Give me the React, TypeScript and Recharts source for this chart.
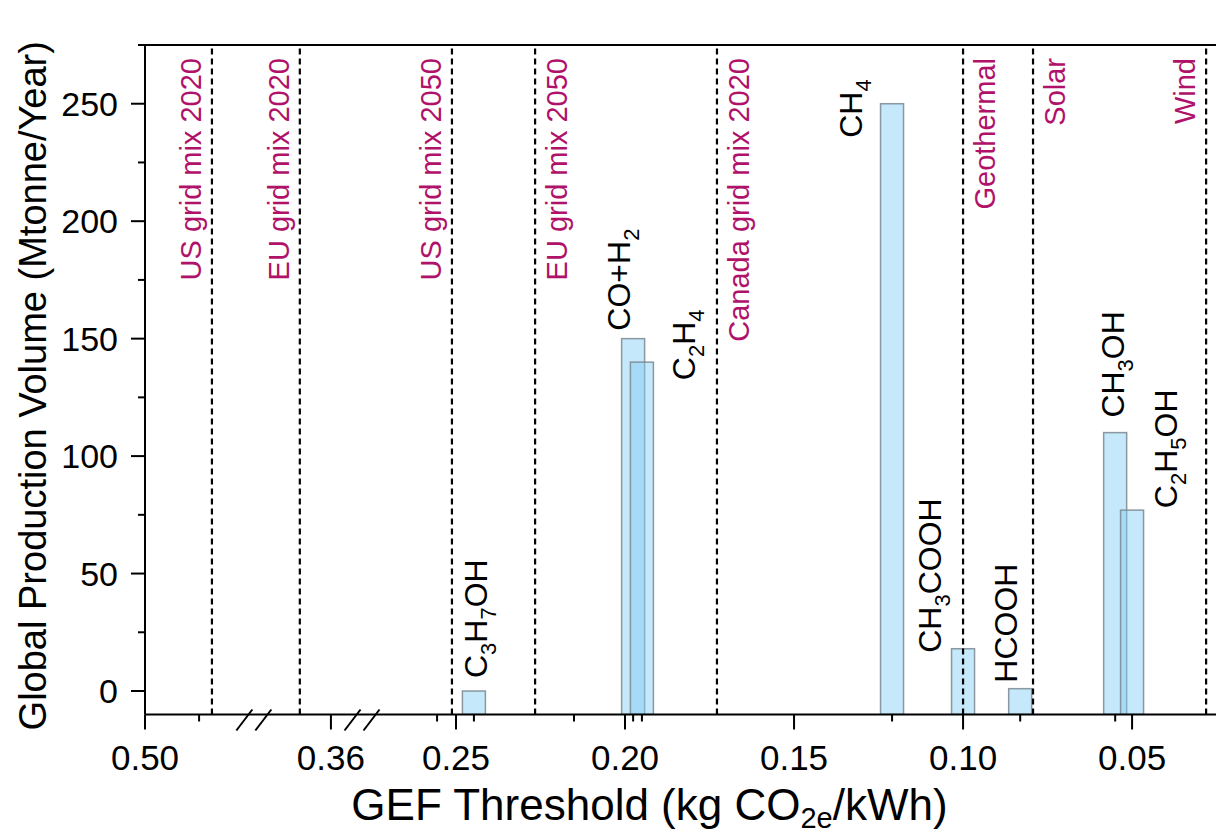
import React from 'react';
import { BarChart, Bar, XAxis, YAxis, ReferenceLine, ReferenceDot, Label } from 'recharts';

// ---------- data ----------
const products = ['C3H7OH', 'CO+H2', 'C2H4', 'CH4', 'CH3COOH', 'HCOOH', 'CH3OH', 'C2H5OH'];
const productGef = [0.2447, 0.1976, 0.195, 0.121, 0.1, 0.0831, 0.055, 0.05];
const productVolume = [0, 150, 140, 250, 18, 1, 110, 77];
// label placement relative to the bar's top centre (px): [dx, dy]
const labelOffsets = [[13, -13], [-3, -8], [53, 18], [-30, 34], [-22, 4], [-3, -6], [9, -15], [45, -2]];

const gridNames = ['US grid mix 2020', 'EU grid mix 2020', 'US grid mix 2050', 'EU grid mix 2050', 'Canada grid mix 2020', 'Geothermal', 'Solar', 'Wind'];
const gridGef = [0.4802, 0.3692, 0.2512, 0.2266, 0.1728, 0.1, 0.0793, 0.0281];
const gridLabelSide = ['left', 'left', 'left', 'right', 'right', 'right', 'right', 'left'];

const majorTicks = [0.5, 0.36, 0.25, 0.2, 0.15, 0.1, 0.05];
const majorTickLabels = ['0.50', '0.36', '0.25', '0.20', '0.15', '0.10', '0.05'];
const extraMinorTicks = [0.484, 0.2556, 0.2151];

const yTicks = [0, 25, 50, 75, 100, 125, 150, 175, 200, 225, 250, 275];
const yMajorLabels = ['0', '50', '100', '150', '200', '250'];

// broken x axis: visible GEF ranges (left to right, reversed axis)
const axisSegments = [[0.5, 0.4678], [0.3828, 0.3508], [0.2778, 0.0234]];

const Y_MIN = -10;
const Y_MAX = 275;

// ---------- helpers ----------
const FONT = '"Liberation Sans", Arial, sans-serif';
const MAGENTA = '#b0126a';

function gefToU(g: number): number {
  let off = 0;
  for (const [a, b] of axisSegments) {
    if (g <= a + 1e-9 && g >= b - 1e-9) return off + (a - g);
    off += a - b;
  }
  return off;
}
const totalU = axisSegments.reduce((s, [a, b]) => s + (a - b), 0);
const breakU: number[] = [];
{
  let off = 0;
  for (let i = 0; i < axisSegments.length - 1; i++) {
    off += axisSegments[i][0] - axisSegments[i][1];
    breakU.push(off);
  }
}

const data = products.map((name, i) => ({
  u: gefToU(productGef[i]),
  range: [Y_MIN, productVolume[i]],
  name,
  idx: i,
}));

const majorU = majorTicks.map(gefToU);
const tickSet: number[] = [];
[...majorU, ...extraMinorTicks.map(gefToU), ...productGef.map(gefToU)].forEach((u) => {
  if (!tickSet.some((t) => Math.abs(t - u) < 1e-6)) tickSet.push(u);
});
tickSet.sort((a, b) => a - b);

function formulaSpans(text: string, size: number) {
  const parts = text.match(/\d+|[^\d]+/g) || [];
  let shifted = false;
  const sub = Math.round(size * 0.68);
  const shift = size * 0.27;
  return parts.map((p, i) => {
    const isSub = /^\d/.test(p);
    let dy = 0;
    if (isSub && !shifted) {
      dy = shift;
      shifted = true;
    } else if (!isSub && shifted) {
      dy = -shift;
      shifted = false;
    }
    return (
      <tspan key={i} dy={dy} fontSize={isSub ? sub : size}>
        {p}
      </tspan>
    );
  });
}

const BarShape = (props: any) => {
  const { x, y, width, height, payload } = props;
  const top = Math.min(y, y + height);
  const h = Math.abs(height);
  const cx = x + width / 2;
  const w = 23;
  const i = payload.idx;
  const [dx, dy] = labelOffsets[i];
  const lx = cx + dx;
  const ly = top + dy;
  return (
    <g>
      <rect x={cx - w / 2} y={top} width={w} height={h} fill="#7ecbf5" fillOpacity={0.45} stroke="#7a8790" strokeOpacity={0.85} strokeWidth={1.5} />
      <text x={lx} y={ly} transform={`rotate(-90 ${lx} ${ly})`} fontFamily={FONT} fontSize={32} fill="#000" textAnchor="start">
        {formulaSpans(payload.name, 32)}
      </text>
    </g>
  );
};

const XTick = (props: any) => {
  const { x, y, payload } = props;
  const mi = majorU.findIndex((m) => Math.abs(m - payload.value) < 1e-6);
  const isMajor = mi >= 0;
  return (
    <g>
      <line x1={x} x2={x} y1={y} y2={y + (isMajor ? 15 : 7)} stroke="#000" strokeWidth={2} />
      {isMajor && (
        <text x={x} y={y + 55.5} textAnchor="middle" fontFamily={FONT} fontSize={35} fill="#000">
          {majorTickLabels[mi]}
        </text>
      )}
    </g>
  );
};

const YTick = (props: any) => {
  const { x, y, payload } = props;
  const v = payload.value;
  const isMajor = v % 50 === 0;
  return (
    <g>
      <line x1={x - (isMajor ? 14 : 7)} x2={x} y1={y} y2={y} stroke="#000" strokeWidth={2} />
      {isMajor && (
        <text x={x - 27} y={y} dy="0.36em" textAnchor="end" fontFamily={FONT} fontSize={34} fill="#000">
          {yMajorLabels[v / 50]}
        </text>
      )}
    </g>
  );
};

const BreakMark = (props: any) => {
  const { cx, cy } = props;
  const seg = (ox: number) => (
    <line x1={cx + ox - 8} y1={cy + 16} x2={cx + ox + 8} y2={cy - 5} stroke="#000" strokeWidth={2} />
  );
  return (
    <g>
      {seg(-9.5)}
      {seg(9.5)}
    </g>
  );
};

const gridLabel = (i: number) => (p: any) => {
  const vb = p.viewBox || {};
  const lx = vb.x + (gridLabelSide[i] === 'left' ? -11 : 32);
  const ly = vb.y + 13;
  return (
    <text x={lx} y={ly} transform={`rotate(-90 ${lx} ${ly})`} textAnchor="end" fontFamily={FONT} fontSize={29} fill={MAGENTA}>
      {gridNames[i]}
    </text>
  );
};

const XTitle = (p: any) => {
  const vb = p.viewBox || {};
  const x = vb.x + vb.width / 2 - 34;
  const y = vb.y + 105;
  return (
    <text x={x} y={y} textAnchor="middle" fontFamily={FONT} fontSize={44} fill="#000">
      <tspan>GEF Threshold (kg CO</tspan>
      <tspan dy={8} fontSize={29}>2e</tspan>
      <tspan dy={-8}>/kWh)</tspan>
    </text>
  );
};

const YTitle = (p: any) => {
  const vb = p.viewBox || {};
  const x = 38;
  const y = vb.y + vb.height / 2 + 6;
  return (
    <text x={x} y={y} transform={`rotate(-90 ${x} ${y})`} textAnchor="middle" fontFamily={FONT} fontSize={38} fill="#000">
      Global Production Volume (Mtonne/Year)
    </text>
  );
};

export default function App() {
  return (
    <div style={{ width: 1216, height: 829, background: '#fff' }}>
      <BarChart width={1216} height={829} data={data} margin={{ top: 37, right: 2, bottom: 22.5, left: 17 }}>
        <XAxis
          dataKey="u"
          type="number"
          domain={[0, totalU]}
          allowDataOverflow
          ticks={tickSet}
          interval={0}
          tick={XTick}
          tickLine={false}
          tickSize={0}
          tickMargin={0}
          axisLine={{ stroke: '#000', strokeWidth: 2 }}
          height={100}
        >
          <Label content={XTitle} />
        </XAxis>
        <YAxis
          type="number"
          domain={[Y_MIN, Y_MAX]}
          allowDataOverflow
          ticks={yTicks}
          interval={0}
          tick={YTick}
          tickLine={false}
          tickSize={0}
          tickMargin={0}
          axisLine={{ stroke: '#000', strokeWidth: 2 }}
          width={120}
        >
          <Label content={YTitle} />
        </YAxis>
        <Bar dataKey="range" isAnimationActive={false} shape={BarShape} />
        {gridGef.map((g, i) => (
          <ReferenceLine
            key={gridNames[i]}
            x={gefToU(g)}
            stroke="#000"
            strokeWidth={2.2}
            strokeDasharray="6 4"
            label={gridLabel(i)}
          />
        ))}
        <ReferenceLine y={Y_MAX} stroke="#000" strokeWidth={2} />
        {breakU.map((u) => (
          <ReferenceDot key={u} x={u} y={Y_MIN} r={1} shape={BreakMark} ifOverflow="visible" />
        ))}
      </BarChart>
    </div>
  );
}
